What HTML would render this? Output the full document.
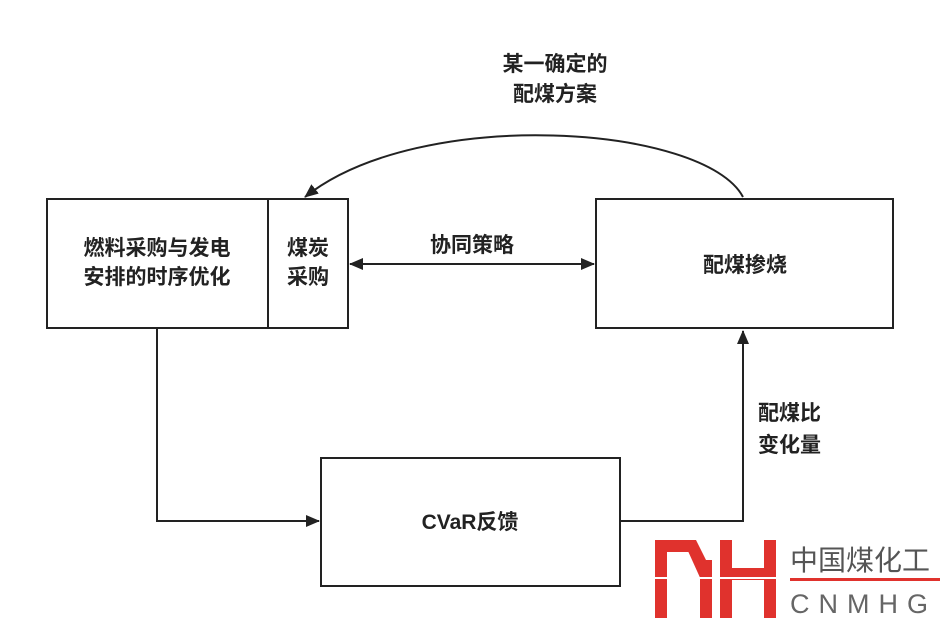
<!DOCTYPE html>
<html><head><meta charset="utf-8"><style>
body{margin:0;background:#fff;}
svg text{font-family:"Liberation Sans","Noto Sans CJK SC",sans-serif;font-weight:bold;fill:#222;}
</style></head><body>
<svg width="944" height="628" viewBox="0 0 944 628" xmlns="http://www.w3.org/2000/svg">
<defs><marker id="a" markerWidth="14" markerHeight="12" refX="13" refY="6" orient="auto" markerUnits="userSpaceOnUse"><path d="M0,0 L14,6 L0,12 z" fill="#222"/></marker>
<marker id="s" markerWidth="14" markerHeight="12" refX="1" refY="6" orient="auto" markerUnits="userSpaceOnUse"><path d="M14,0 L0,6 L14,12 z" fill="#222"/></marker></defs>
<g fill="none" stroke="#222" stroke-width="2">
<rect x="47" y="199" width="301" height="129"/>
<line x1="268" y1="199" x2="268" y2="328"/>
<rect x="596" y="199" width="297" height="129"/>
<rect x="321" y="458" width="299" height="128"/>
<polyline points="157,328 157,521 319,521" marker-end="url(#a)"/>
<polyline points="620,521 743,521 743,331" marker-end="url(#a)"/>
<line x1="350" y1="264" x2="594" y2="264" marker-start="url(#s)" marker-end="url(#a)"/>
<path d="M743,197 C705,125 420,105 305,197" marker-end="url(#a)"/>
</g>
<text x="157" y="255" font-size="21" text-anchor="middle">燃料采购与发电</text>
<text x="157" y="284" font-size="21" text-anchor="middle">安排的时序优化</text>
<text x="308" y="255" font-size="21" text-anchor="middle">煤炭</text>
<text x="308" y="284" font-size="21" text-anchor="middle">采购</text>
<text x="472" y="252" font-size="21" text-anchor="middle">协同策略</text>
<text x="745" y="272" font-size="21" text-anchor="middle">配煤掺烧</text>
<text x="470" y="529" font-size="21" text-anchor="middle">CVaR反馈</text>
<text x="555" y="71" font-size="21" text-anchor="middle">某一确定的</text>
<text x="555" y="101" font-size="21" text-anchor="middle">配煤方案</text>
<text x="758" y="420" font-size="21">配煤比</text>
<text x="758" y="452" font-size="21">变化量</text>
<g fill="#e0322d">
<rect x="655" y="540" width="12" height="78"/>
<rect x="655" y="540" width="40" height="12"/>
<polygon points="683,540 696,540 712,572 712,582 702,582"/>
<rect x="700" y="560" width="12" height="58"/>
<rect x="720" y="540" width="12" height="78"/>
<rect x="764" y="540" width="12" height="78"/>
<rect x="720" y="568" width="56" height="12"/>
</g>
<rect x="650" y="577" width="130" height="2" fill="#fff"/>
<text x="790" y="570" font-size="28" style="font-weight:normal;fill:#555">中国煤化工</text>
<rect x="790" y="578" width="150" height="3" fill="#e0322d"/>
<text x="790" y="613" font-size="27" style="font-weight:normal;fill:#666;letter-spacing:9px">CNMHG</text>
</svg>
</body></html>
